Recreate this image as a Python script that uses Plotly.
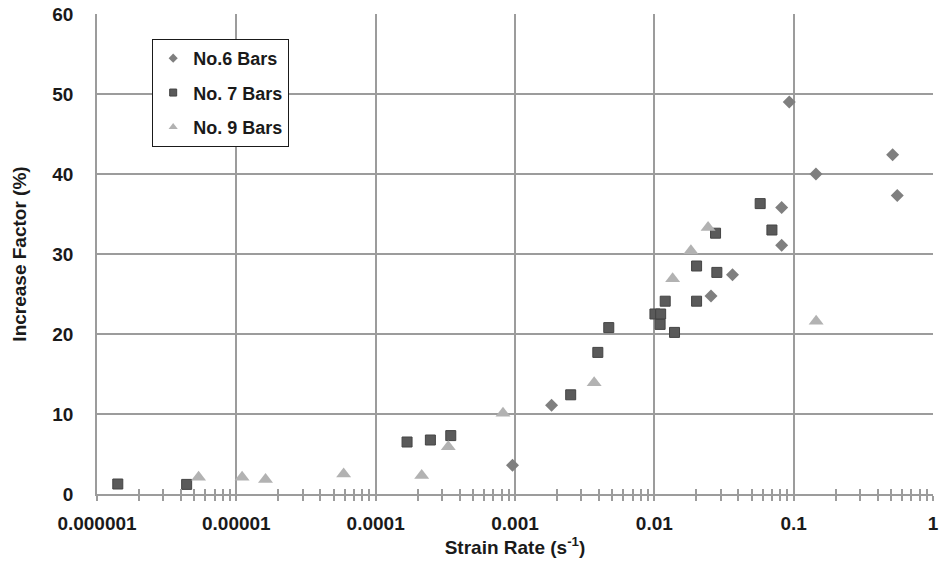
import plotly.graph_objects as go

# ---- data ----
series_names = ["No.6 Bars", "No. 7 Bars", "No. 9 Bars"]

no6_rate = [0.00096, 0.00183, 0.0255, 0.0364, 0.082, 0.082, 0.093, 0.1445, 0.513, 0.554]
no6_factor = [3.6, 11.1, 24.75, 27.4, 35.8, 31.1, 49.0, 40.0, 42.4, 37.3]

no7_rate = [1.41e-6, 4.4e-6, 1.68e-4, 2.47e-4, 3.46e-4, 0.00251, 0.00393, 0.00471,
            0.0101, 0.0111, 0.0110, 0.01396, 0.01197, 0.0201, 0.0201, 0.0281, 0.0275,
            0.0575, 0.0698]
no7_factor = [1.25, 1.2, 6.5, 6.75, 7.3, 12.4, 17.7, 20.8,
              22.5, 22.5, 21.2, 20.2, 24.1, 24.1, 28.5, 27.7, 32.6,
              36.3, 33.0]

no9_rate = [5.36e-6, 1.10e-5, 1.62e-5, 5.89e-5, 2.14e-4, 3.32e-4, 8.2e-4, 0.0037,
            0.01353, 0.0183, 0.0243, 0.145]
no9_factor = [2.1, 2.1, 1.8, 2.5, 2.3, 5.9, 10.1, 13.9, 26.9, 30.4, 33.3, 21.6]

x_tickvals = [1e-6, 1e-5, 1e-4, 1e-3, 1e-2, 1e-1, 1]
x_ticktext = ["0.000001", "0.00001", "0.0001", "0.001", "0.01", "0.1", "1"]
minor_multipliers = [2, 3, 4, 5, 6, 7, 8, 9]
y_tickvals = [0, 10, 20, 30, 40, 50, 60]

x_minor_vals = [d * m for d in x_tickvals[:-1] for m in minor_multipliers]

FONT = "Liberation Sans, Arial, sans-serif"
GRID = "#9c9c9c"
TXT = "#1a1a1a"

fig = go.Figure()

styles = [
    dict(symbol="diamond", size=10, color="#7f7f7f", line=dict(width=0)),
    dict(symbol="square", size=10, color="#5a5a5a", line=dict(width=1, color="#444444")),
    dict(symbol="triangle-up", size=13, color="#b2b2b2", line=dict(width=0)),
]
data = [(no6_rate, no6_factor), (no7_rate, no7_factor), (no9_rate, no9_factor)]

for i, (name, (xs, ys), st) in enumerate(zip(series_names, data, styles)):
    fig.add_trace(go.Scatter(
        x=xs, y=ys, mode="markers", name=name, legendgroup=name,
        marker=st, showlegend=False, cliponaxis=False,
    ))
    # legend entry with the small legend symbol used in the reference
    leg = dict(st)
    leg["size"] = 7 if i < 2 else 8
    fig.add_trace(go.Scatter(
        x=[None], y=[None], mode="markers", name=name, legendgroup=name,
        marker=leg, showlegend=True, xaxis="x2",
    ))

axis_common = dict(
    type="log", range=[-6, 0], tickmode="array", tickvals=x_tickvals,
    automargin=False, zeroline=False,
)

fig.update_layout(
    width=941, height=569,
    margin=dict(l=97, r=8, t=14, b=75),
    paper_bgcolor="white", plot_bgcolor="white",
    font=dict(family=FONT, color=TXT),
    showlegend=True,
    legend=dict(
        x=0.066, y=0.948, xanchor="left", yanchor="top",
        bgcolor="white", bordercolor=TXT, borderwidth=1,
        font=dict(family=FONT, size=18, color=TXT, weight="bold"),
        tracegroupgap=8,
    ),
    xaxis=dict(
        **axis_common,
        ticktext=x_ticktext,
        tickfont=dict(family=FONT, size=19, color=TXT, weight="bold"),
        showgrid=True, gridcolor=GRID, gridwidth=1.5,
        showline=True, linecolor=GRID, linewidth=2,
        ticks="outside", ticklen=5, tickcolor=GRID, tickwidth=1.5,
        ticklabelstandoff=6,
        minor=dict(tickmode="array", tickvals=x_minor_vals, ticks="outside",
                   ticklen=5, tickcolor=GRID, tickwidth=1.5, showgrid=False),
        title=dict(text="Strain Rate (s<sup>-1</sup>)",
                   font=dict(family=FONT, size=19, color=TXT, weight="bold"),
                   standoff=7),
    ),
    xaxis2=dict(
        **axis_common,
        overlaying="x", anchor="y", side="bottom",
        showticklabels=False, showgrid=False, showline=False,
        ticks="inside", ticklen=5, tickcolor=GRID, tickwidth=1.5,
        minor=dict(tickmode="array", tickvals=x_minor_vals, ticks="inside",
                   ticklen=5, tickcolor=GRID, tickwidth=1.5, showgrid=False),
    ),
    yaxis=dict(
        range=[0, 60], tickmode="array", tickvals=y_tickvals,
        tickfont=dict(family=FONT, size=19, color=TXT, weight="bold"),
        showgrid=True, gridcolor=GRID, gridwidth=1.5,
        showline=True, linecolor=GRID, linewidth=1.5,
        ticks="", ticklabelstandoff=18,
        title=dict(text="Increase Factor (%)",
                   font=dict(family=FONT, size=19, color=TXT, weight="bold"),
                   standoff=21),
        zeroline=False, automargin=False,
    ),
)

fig.write_html("out.html")
